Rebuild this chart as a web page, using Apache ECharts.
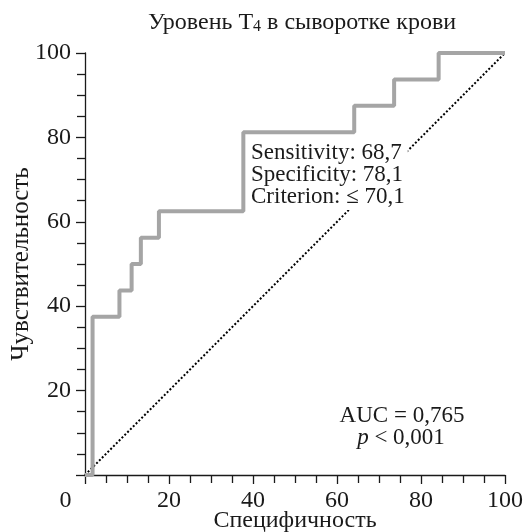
<!DOCTYPE html>
<html>
<head>
<meta charset="utf-8">
<script src="https://cdn.jsdelivr.net/npm/echarts@6/dist/echarts.min.js"></script>
<style>
html, body { margin: 0; padding: 0; background: #fff; }
#chart { width: 528px; height: 532px; }
</style>
</head>
<body>
<div id="chart"></div>
<script>
// ROC curve corners: 100 - specificity (x) and sensitivity (y)
var fpr = [0, 1.8, 8.2, 11.1, 13.3, 17.6, 37.7, 64.1, 73.6, 84.2, 100];
var tpr = [0, 37.5, 43.75, 50, 56.25, 62.5, 81.25, 87.5, 93.75, 100, 100];
var diagX = [0, 100];
var diagY = [0, 100];
var statLines = ['Sensitivity: 68,7', 'Specificity: 78,1', 'Criterion: \u2264 70,1'];
var aucText = 'AUC = 0,765';
var pText = '< 0,001';

var font = 'Liberation Serif';
var ink = '#1a1a1a';

var rocData = fpr.map(function (x, i) { return [x, tpr[i]]; });
var diagData = diagX.map(function (x, i) { return [x, diagY[i]]; });

var axisCommon = {
  type: 'value',
  min: 0,
  max: 100,
  interval: 20,
  nameLocation: 'middle',
  nameMoveOverlap: false,
  nameTextStyle: { fontFamily: font, fontSize: 24, color: ink },
  axisLine: { show: true, lineStyle: { color: ink, width: 1.3 } },
  axisTick: { show: true, length: 9, lineStyle: { color: ink, width: 1.3 } },
  minorTick: { show: true, splitNumber: 4, length: 8, lineStyle: { color: ink, width: 1.3 } },
  splitLine: { show: false },
  minorSplitLine: { show: false }
};

var chart = echarts.init(document.getElementById('chart'));
chart.setOption({
  animation: false,
  backgroundColor: '#fff',
  title: {
    text: 'Уровень T{sub|4} в сыворотке крови',
    left: 297,
    top: 5,
    textAlign: 'center',
    textStyle: {
      fontFamily: font, fontSize: 24, fontWeight: 'normal', color: ink,
      rich: { sub: { fontFamily: font, fontSize: 16, color: ink, padding: [9, 0, 0, 0] } }
    }
  },
  grid: { left: 85, right: 23, top: 53, bottom: 57, outerBoundsMode: 'none' },
  xAxis: Object.assign({}, axisCommon, {
    name: 'Специфичность',
    nameGap: 34,
    axisLabel: {
      fontFamily: font, fontSize: 24, color: ink, margin: 14,
      formatter: function (v) { return v === 0 ? '{z|0}' : String(v); },
      rich: { z: { fontFamily: font, fontSize: 24, color: ink, padding: [0, 39, 0, 0] } }
    }
  }),
  yAxis: Object.assign({}, axisCommon, {
    name: 'Чувствительность',
    nameGap: 51,
    nameTextStyle: { fontFamily: font, fontSize: 25, color: ink },
    axisLabel: {
      fontFamily: font, fontSize: 24, color: ink, margin: 14,
      formatter: function (v) { return v === 0 ? '' : String(v); }
    }
  }),
  series: [
    {
      type: 'line',
      data: diagData,
      symbol: 'none',
      lineStyle: { color: '#000', width: 2, type: [2, 2] },
      z: 2
    },
    {
      type: 'line',
      data: rocData,
      step: 'end',
      symbol: 'none',
      lineStyle: { color: '#a5a5a5', width: 4 },
      z: 3
    }
  ],
  graphic: [
    {
      type: 'text',
      left: 248,
      top: 141,
      z: 10,
      style: {
        text: statLines.join('\n'),
        fontFamily: font,
        fontSize: 23,
        lineHeight: 22,
        fill: ink,
        backgroundColor: '#fff',
        padding: [1, 3, 2, 3]
      }
    },
    {
      type: 'text',
      x: 402,
      y: 404,
      z: 10,
      style: {
        text: aucText,
        fontFamily: font,
        fontSize: 23,
        fill: ink,
        align: 'center',
        verticalAlign: 'top'
      }
    },
    {
      type: 'text',
      x: 401,
      y: 426,
      z: 10,
      style: {
        text: '{i|p} ' + pText,
        fontFamily: font,
        fontSize: 23,
        fill: ink,
        align: 'center',
        verticalAlign: 'top',
        rich: { i: { fontFamily: font, fontSize: 23, fontStyle: 'italic', fill: ink } }
      }
    }
  ]
});
</script>
</body>
</html>
